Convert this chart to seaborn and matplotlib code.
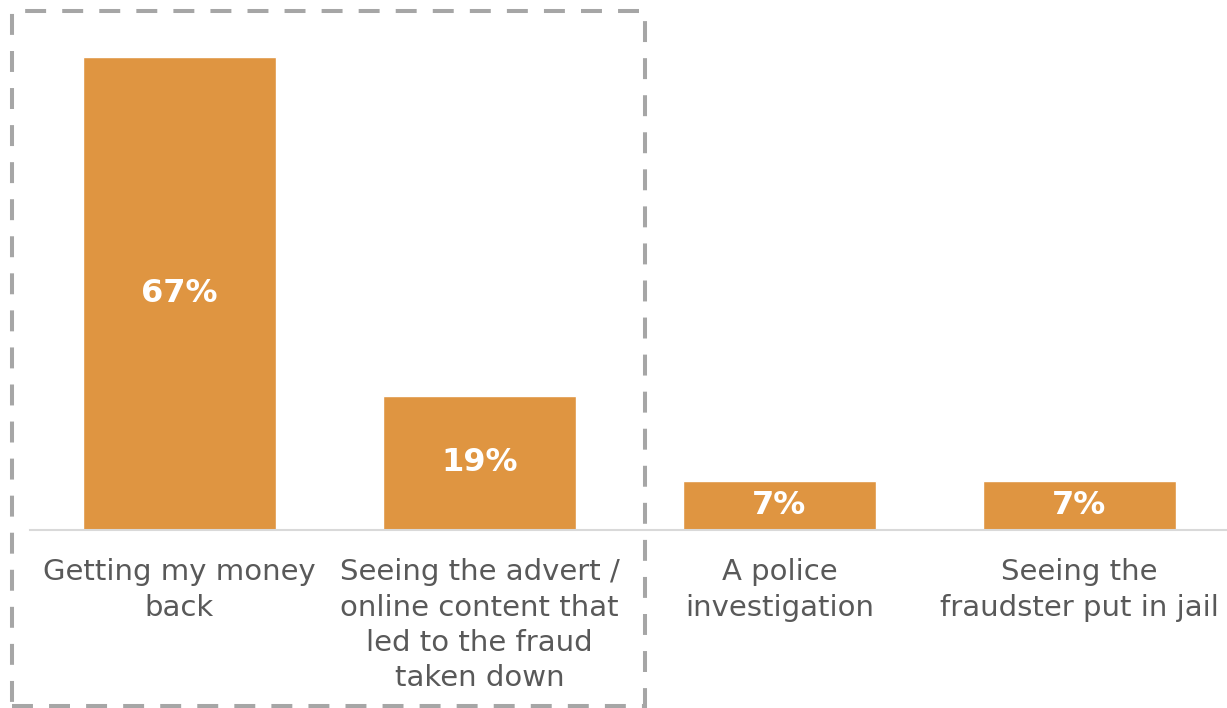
import matplotlib
matplotlib.use("Agg")
import matplotlib.pyplot as plt
from matplotlib.patches import Rectangle
import seaborn as sns
import pandas as pd

# Outcomes respondents most wanted after being defrauded
categories = [
    "Getting my money\nback",
    "Seeing the advert /\nonline content that\nled to the fraud\ntaken down",
    "A police\ninvestigation",
    "Seeing the\nfraudster put in jail",
]
values = [67, 19, 7, 7]
value_labels = ["67%", "19%", "7%", "7%"]

bar_color = "#DF9541"
text_color = "#595959"

sns.set_theme(style="white")
plt.rcParams["font.family"] = ["DejaVu Sans"]

fig = plt.figure(figsize=(12.27, 7.08), dpi=100)
W, H = 1227, 708
ax = fig.add_axes([29.5 / W, (H - 530) / H, 1200 / W, 530 / H])

df = pd.DataFrame({"category": categories, "value": values})
sns.barplot(data=df, x="category", y="value", color=bar_color, saturation=1,
            width=0.643, ax=ax)

ax.set_ylim(0, 75)
ax.set_xlim(-0.5, 3.5)
ax.set_xlabel("")
ax.set_ylabel("")
ax.set_yticks([])
for side in ["top", "right", "left"]:
    ax.spines[side].set_visible(False)
ax.spines["bottom"].set_color("#D9D9D9")
ax.spines["bottom"].set_linewidth(1.5)
ax.tick_params(axis="x", length=0, pad=20.5, labelsize=21, labelcolor=text_color)
for lbl in ax.get_xticklabels():
    lbl.set_linespacing(1.32)
    lbl.set_verticalalignment("top")

ax.bar_label(ax.containers[0], labels=value_labels, label_type="center",
             color="white", fontsize=23, fontweight="bold")

# Dashed frame around the first two outcomes
frame = Rectangle((11.5 / W, (H - 706) / H), (645 - 11.5) / W, (706 - 11) / H,
                  transform=fig.transFigure, fill=False, edgecolor="#A6A6A6",
                  linewidth=2.9, linestyle=(0, (5.2, 4)), clip_on=False)
fig.patches.append(frame)

fig.savefig("out.png", dpi=100)
